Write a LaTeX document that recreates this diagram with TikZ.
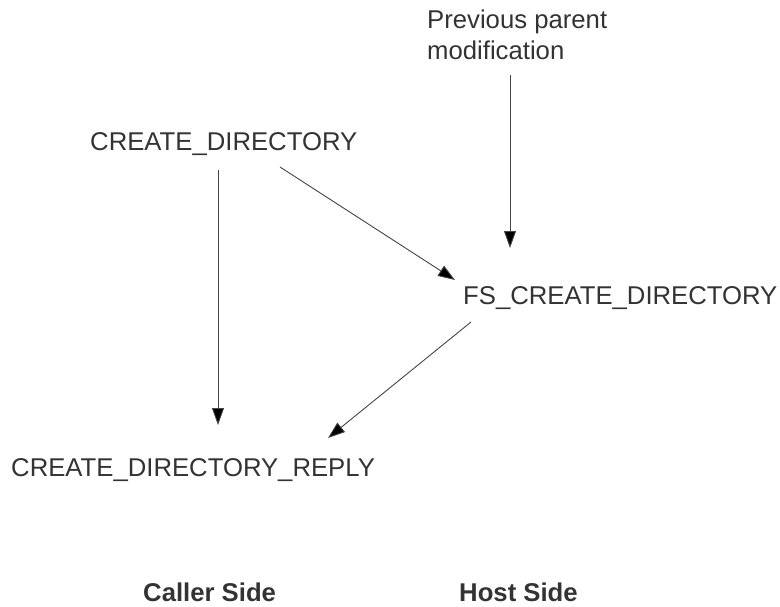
\documentclass[tikz,border=0pt]{standalone}
\usepackage{fontspec}
\setmainfont{Liberation Sans}
\usetikzlibrary{arrows.meta}
\definecolor{ink}{HTML}{333333}
\definecolor{wire}{HTML}{444444}
\tikzset{
  lbl/.style={anchor=base west, inner sep=0pt, text=ink, font=\fontsize{25.7}{30.5}\selectfont},
  side/.style={anchor=base west, inner sep=0pt, text=ink, font=\fontsize{25.7}{30.5}\selectfont\bfseries},
  arr/.style={draw=wire, line width=0.9pt, -{Triangle[length=17pt, width=12pt, fill=black]}}
}
\begin{document}
\begin{tikzpicture}[x=1pt, y=-1pt]
  \useasboundingbox (0,0) rectangle (780,606);
  % message labels
  \node[lbl] (cd) at (90,150) {CREATE\_DIRECTORY};
  \node[lbl] (fs) at (463,304) {FS\_CREATE\_DIRECTORY};
  \node[lbl] (cr) at (11,476) {CREATE\_DIRECTORY\_REPLY};
  \node[lbl, align=left, anchor=north west] (prev) at (427,10)
    {Previous parent\\modification};
  % column captions
  \node[side] (caller) at (143,601) {Caller Side};
  \node[side] (host) at (459,601) {Host Side};
  % message flow
  \draw[arr] ([xshift=128pt, yshift=-20pt]cd.base west) -- ([xshift=207pt, yshift=51pt]cr.base west);
  \draw[arr] ([xshift=190pt, yshift=-17pt]cd.base west) -- ([xshift=-8pt, yshift=24pt]fs.base west);
  \draw[arr] ([xshift=83pt, yshift=-65pt]prev.north west) -- ([xshift=47pt, yshift=56pt]fs.base west);
  \draw[arr] ([xshift=8pt, yshift=-18pt]fs.base west) -- ([xshift=317pt, yshift=38pt]cr.base west);
\end{tikzpicture}
\end{document}
